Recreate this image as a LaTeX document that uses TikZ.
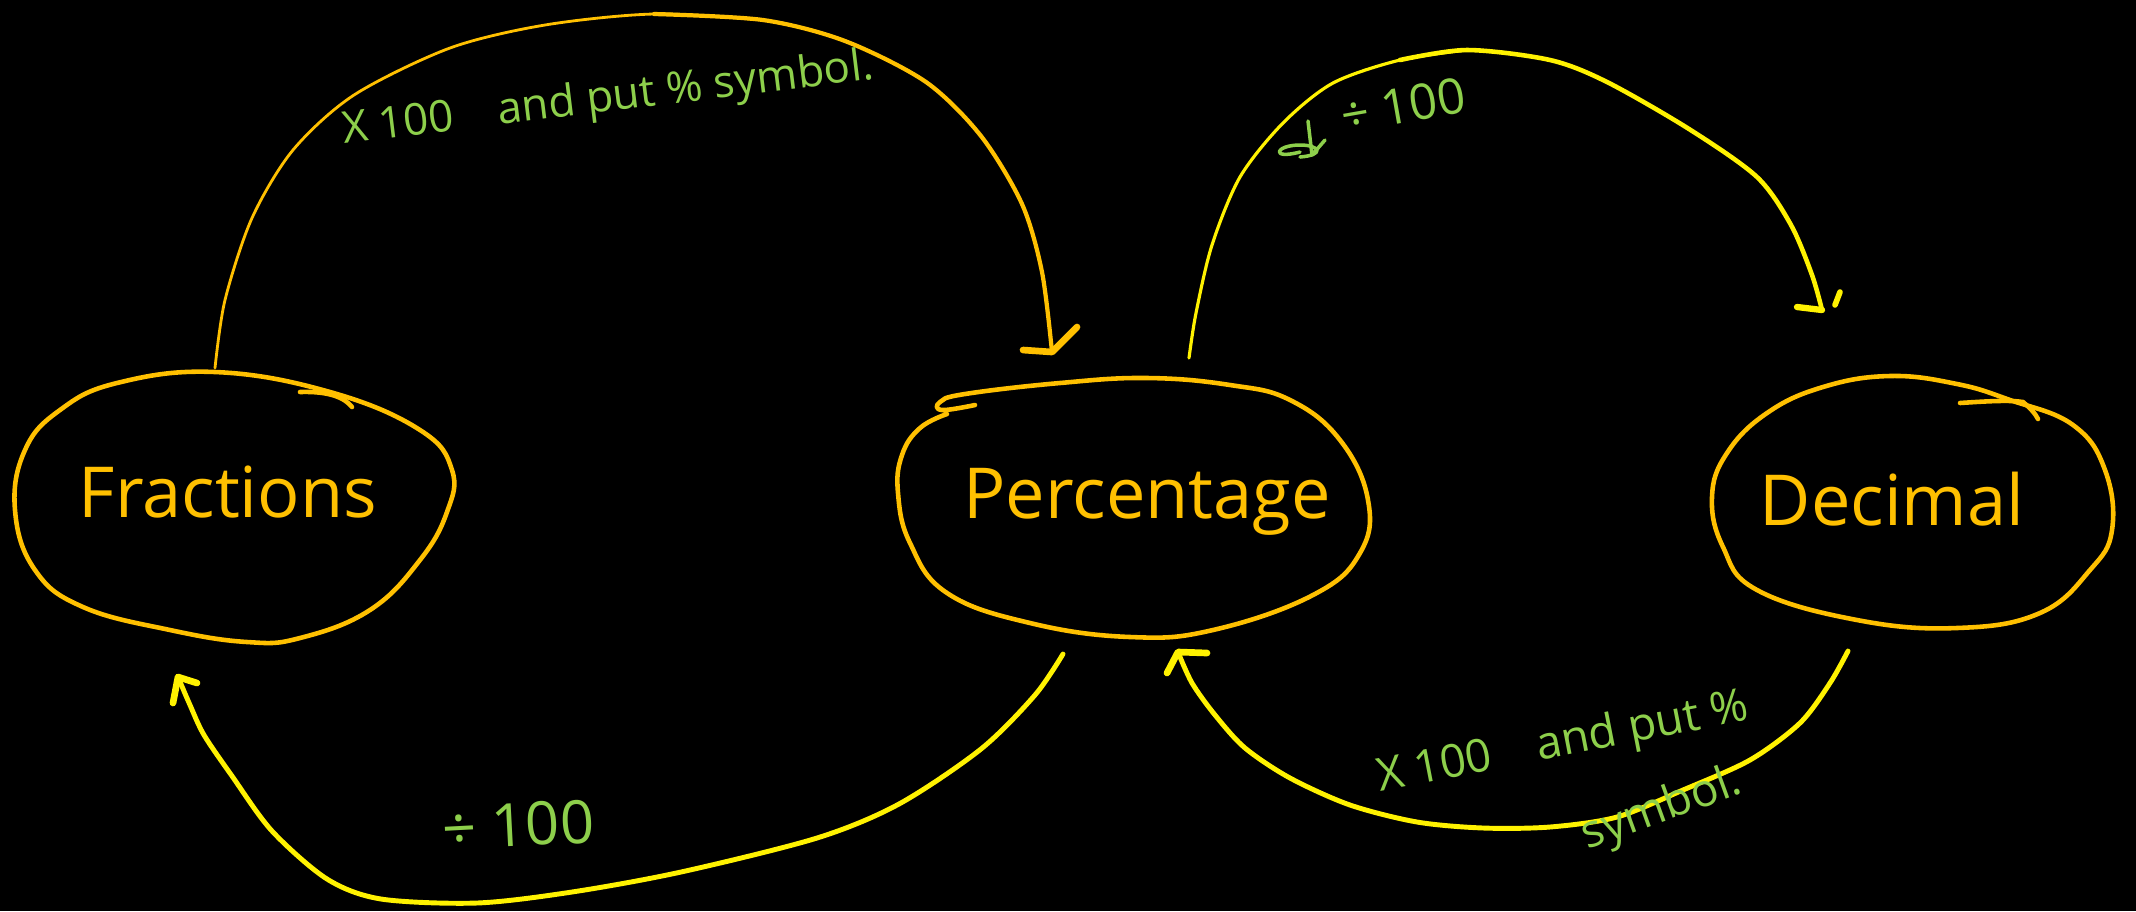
\documentclass[tikz,border=0pt]{standalone}
\usepackage{fontspec}
\setmainfont{Open Sans}
\definecolor{amber}{HTML}{FFC000}
\definecolor{lemon}{HTML}{FFF200}
\definecolor{leaf}{HTML}{8DCF4B}
\begin{document}
\begin{tikzpicture}[x=0.01cm,y=-0.01cm, line cap=round, line join=round,
  blob/.style={draw=amber, line width=1.3pt},
  word/.style={text=amber, font=\fontsize{20}{24}\selectfont, inner sep=0pt},
  link/.style={lemon, line width=1.4pt},
  note/.style={text=leaf, inner sep=0pt}]
\fill[black] (0,0) rectangle (2136,911);
\useasboundingbox (0,0) rectangle (2136,911);

% nodes
\node[word] (fr) at (228,492) {Fractions};
\node[word] (pc) at (1147,502) {Percentage};
\node[word] (dc) at (1892,499) {Decimal};

% hand-drawn outlines
\draw[blob] plot[smooth cycle, tension=0.7] coordinates {(215,372) (330,392) (420,430) (452,470) (447,512) (420,560) (370,610) (300,638) (247,642) (170,630) (83,607) (35,570) (15,510) (25,450) (60,410) (117,383)};
\draw[blob] (300,392) .. controls (330,391) and (345,398) .. (352,407);

\draw[blob] plot[smooth, tension=0.7] coordinates {(975,405) (942,410) (940,402) (965,394) (1060,383) (1147,378) (1230,385) (1290,400) (1340,440) (1368,500) (1360,553) (1313,595) (1213,630) (1130,637) (1030,623) (947,593) (910,543) (898,493) (902,455) (920,428) (947,414)};

\draw[blob] plot[smooth cycle, tension=0.7] coordinates {(1890,376) (1957,384) (2010,400) (2073,425) (2105,470) (2112,530) (2090,570) (2040,613) (1957,628) (1857,620) (1757,590) (1723,547) (1712,497) (1727,453) (1767,413) (1823,387)};
\draw[blob] (1960,403) .. controls (1990,401) and (2010,400) .. (2023,402) .. controls (2030,408) and (2035,413) .. (2038,419);

% connector end points
\coordinate (a1s) at (215,368);
\coordinate (a1e) at (1052,352);
\coordinate (a2s) at (1189,358);
\coordinate (a2e) at (1822,310);
\coordinate (a3s) at (1848,651);
\coordinate (a3e) at (1178,652);
\coordinate (a4s) at (1063,654);
\coordinate (a4e) at (178,677);

% Fractions -> Percentage
\draw[amber, line width=0.8pt] plot[smooth] coordinates {(a1s) (225,300) (252,218) (293,150) (354,95) (450,48) (545,25) (654,14) (763,20)};
\draw[amber, line width=1.2pt] plot[smooth] coordinates {(654,14) (763,20) (845,41) (926,82) (981,136) (1022,204) (1042,272) (a1e)};
\draw[amber, line width=1.9pt] (1023,350) -- (a1e) -- (1077,327);

% Percentage -> Decimal
\draw[lemon, line width=0.9pt] plot[smooth] coordinates {(a2s) (1196,313) (1212,245) (1240,177) (1283,123) (1333,83) (1400,60) (1467,50)};
\draw[lemon, line width=1.3pt] plot[smooth] coordinates {(1400,60) (1467,50) (1550,60) (1607,82) (1689,129) (1757,177) (1791,225) (1812,275) (a2e)};
\draw[lemon, line width=1.8pt] (1797,307) -- (a2e);
\draw[lemon, line width=1.6pt] (1835,305) -- (1840,292);

% Decimal -> Percentage
\draw[link] plot[smooth] coordinates {(a3s) (1830,683) (1800,723) (1750,760) (1683,790) (1617,817) (1550,827) (1483,828) (1417,822) (1350,805) (1290,778) (1245,748) (1215,715) (1192,683) (a3e)};
\draw[lemon, line width=1.9pt] (1167,673) -- (a3e) -- (1207,653);

% Percentage -> Fractions
\draw[link] plot[smooth] coordinates {(a4s) (1035,695) (981,749) (899,804) (817,838) (681,872) (572,892) (477,903) (381,899) (327,879) (272,831) (232,776) (204,735) (190,705) (a4e)};
\draw[lemon, line width=1.9pt] (173,703) -- (a4e) -- (197,683);

% labels
\node[note, rotate=7, font=\fontsize{12.5}{15}\selectfont] (t1) at (608,100) {X 100\quad and put \% symbol.};
\node[note, rotate=10, font=\fontsize{14}{16}\selectfont] (t2) at (1403,105) {÷ 100};
\node[note, rotate=3, font=\fontsize{17}{19}\selectfont] (t3) at (518,825) {÷ 100};
\node[note, rotate=11, font=\fontsize{13}{15}\selectfont] (t4) at (1563,744) {X 100\quad and put \%};
\node[note, rotate=20, font=\fontsize{13}{15}\selectfont] (t5) at (1662,810) {symbol.};

% crossed-out scribble
\draw[leaf, line width=1pt] (1300,152) .. controls (1270,160) and (1275,145) .. (1300,145) .. controls (1320,145) and (1325,155) .. (1300,157);
\draw[leaf, line width=1pt] (1308,121) -- (1312,155) -- (1325,140);
\end{tikzpicture}
\end{document}
